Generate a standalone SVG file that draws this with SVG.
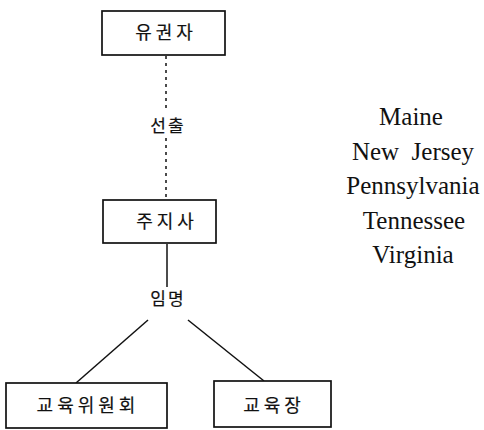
<svg xmlns="http://www.w3.org/2000/svg" width="484" height="430" viewBox="0 0 484 430">
  <style>
    .box { fill: #fff; stroke: #111; stroke-width: 1.7; }
    .kr { font-family: "Noto Sans CJK KR", "Noto Sans", sans-serif; font-size: 18px; fill: #111; stroke: #111; stroke-width: 0.2; text-anchor: middle; dominant-baseline: central; letter-spacing: 4px; }
    .lbl { font-family: "Noto Sans CJK KR", "Noto Sans", sans-serif; font-size: 17px; fill: #111; stroke: #111; stroke-width: 0.2; text-anchor: middle; dominant-baseline: central; letter-spacing: 2px; }
    .state { font-family: "Liberation Serif", "Times New Roman", serif; font-size: 25px; fill: #111; text-anchor: middle; }
    .link { stroke: #111; stroke-width: 1.5; fill: none; }
    .dash { stroke-dasharray: 3 4; }
  </style>

  <g id="connectors">
    <line class="link dash" x1="166" y1="56" x2="166" y2="112"/>
    <line class="link dash" x1="166" y1="138" x2="166" y2="199"/>
    <line class="link" x1="167" y1="244" x2="167" y2="287"/>
    <line class="link" x1="148" y1="320" x2="76" y2="383"/>
    <line class="link" x1="188" y1="320" x2="264" y2="381"/>
    <text class="lbl" x="168" y="124">선출</text>
    <text class="lbl" x="168" y="297">임명</text>
  </g>

  <g id="voters">
    <rect class="box" x="102" y="11" width="123" height="44"/>
    <text class="kr" x="166" y="31">유권자</text>
  </g>

  <g id="governor">
    <rect class="box" x="103" y="200" width="113" height="43"/>
    <text class="kr" x="167" y="220">주지사</text>
  </g>

  <g id="board">
    <rect class="box" x="6" y="383" width="161" height="45"/>
    <text class="kr" x="88" y="404">교육위원회</text>
  </g>

  <g id="superintendent">
    <rect class="box" x="214" y="381" width="117" height="46"/>
    <text class="kr" x="274" y="404">교육장</text>
  </g>

  <g id="states">
    <text class="state" x="411" y="125">Maine</text>
    <text class="state" x="413" y="160" xml:space="preserve">New  Jersey</text>
    <text class="state" x="413" y="194">Pennsylvania</text>
    <text class="state" x="414" y="229">Tennessee</text>
    <text class="state" x="413" y="263">Virginia</text>
  </g>
</svg>
